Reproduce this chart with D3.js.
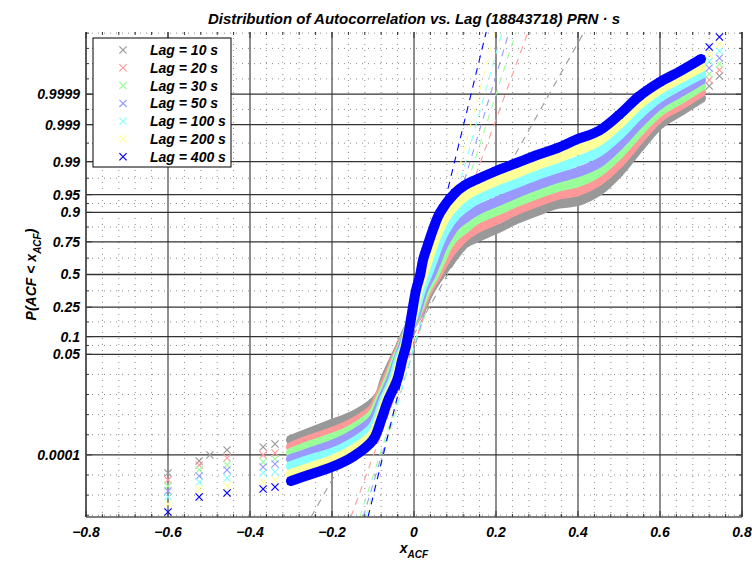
<!DOCTYPE html>
<html>
<head>
<meta charset="utf-8">
<script src="https://cdn.jsdelivr.net/npm/d3@7"></script>
<style>
  body { margin: 0; background: #fff; }
  svg text { font-family: "Liberation Sans", Arial, sans-serif; font-weight: bold; font-style: italic; fill: #000; }
</style>
</head>
<body>
<div id="chart"></div>
<script>
// ---- data (x = ACF value, z = normal quantile of the plotting position) ----
const lagLabels = ["Lag = 10 s", "Lag = 20 s", "Lag = 30 s", "Lag = 50 s", "Lag = 100 s", "Lag = 200 s", "Lag = 400 s"];
const lagColors = ["#999999", "#ff9999", "#99ff99", "#9999ff", "#88ffff", "#ffff99", "#0000ff"];

const yTickLabels = ["0.0001", "0.05", "0.1", "0.25", "0.5", "0.75", "0.9", "0.95", "0.99", "0.999", "0.9999"];
const yMinorDivs = [5, 2, 2, 2, 2, 2, 2, 2, 2, 2];
const xTicks = [-0.8, -0.6, -0.4, -0.2, 0, 0.2, 0.4, 0.6, 0.8];

// dashed reference lines: x at bottom (z=-5) and top (z=5) of the plot
const refLow  = [-0.251, -0.154, -0.132, -0.124, -0.117, -0.115, -0.112];
const refHigh = [ 0.415,  0.278,  0.249,  0.232,  0.215,  0.198,  0.176];

const tails10 = [[-0.600,-4.093],[-0.524,-3.845],[-0.498,-3.722],[-0.456,-3.619],[-0.368,-3.557],[-0.339,-3.495],[0.720,3.887],[0.745,4.093]];
const band10 = [[-0.300,-3.412],[-0.250,-3.247],[-0.200,-3.082],[-0.150,-2.918],[-0.100,-2.649],[-0.083,-2.485],[-0.071,-2.175],[-0.049,-1.763],[-0.034,-1.495],[-0.015,-1.144],[0.012,-0.794],[0.039,-0.320],[0.063,-0.010],[0.090,0.299],[0.115,0.567],[0.125,0.649],[0.150,0.753],[0.200,0.938],[0.250,1.144],[0.300,1.309],[0.350,1.454],[0.400,1.515],[0.450,1.722],[0.500,2.113],[0.550,2.629],[0.600,3.103],[0.650,3.371],[0.700,3.639]];

const tails20 = [[-0.600,-4.237],[-0.524,-3.928],[-0.456,-3.784],[-0.368,-3.722],[-0.339,-3.680],[0.720,4.010],[0.745,4.216]];
const band20 = [[-0.300,-3.557],[-0.250,-3.392],[-0.200,-3.247],[-0.150,-3.062],[-0.100,-2.773],[-0.088,-2.588],[-0.066,-2.175],[-0.046,-1.763],[-0.032,-1.495],[-0.013,-1.144],[0.010,-0.794],[0.034,-0.320],[0.056,-0.010],[0.076,0.299],[0.093,0.505],[0.125,0.794],[0.150,0.938],[0.200,1.124],[0.250,1.330],[0.300,1.495],[0.350,1.639],[0.400,1.722],[0.450,1.928],[0.500,2.299],[0.550,2.794],[0.600,3.247],[0.650,3.495],[0.700,3.763]];

const tails30 = [[-0.600,-4.361],[-0.524,-4.031],[-0.456,-3.928],[-0.368,-3.866],[-0.339,-3.804],[0.720,4.134],[0.745,4.340]];
const band30 = [[-0.300,-3.680],[-0.250,-3.515],[-0.200,-3.371],[-0.150,-3.186],[-0.100,-2.876],[-0.083,-2.588],[-0.061,-2.175],[-0.043,-1.763],[-0.029,-1.495],[-0.013,-1.144],[0.007,-0.794],[0.029,-0.320],[0.049,-0.010],[0.066,0.299],[0.083,0.608],[0.100,0.794],[0.125,0.959],[0.150,1.124],[0.200,1.309],[0.250,1.495],[0.300,1.660],[0.350,1.804],[0.400,1.907],[0.450,2.113],[0.500,2.485],[0.550,2.959],[0.600,3.371],[0.650,3.619],[0.700,3.887]];

const tails50 = [[-0.600,-4.464],[-0.524,-4.155],[-0.456,-4.031],[-0.368,-3.969],[-0.339,-3.907],[0.720,4.258],[0.745,4.464]];
const band50 = [[-0.300,-3.804],[-0.250,-3.660],[-0.200,-3.515],[-0.150,-3.309],[-0.100,-3.000],[-0.078,-2.588],[-0.056,-2.175],[-0.039,-1.763],[-0.027,-1.495],[-0.013,-1.144],[0.005,-0.794],[0.022,-0.320],[0.041,-0.010],[0.056,0.299],[0.071,0.608],[0.085,0.814],[0.100,1.000],[0.125,1.165],[0.150,1.309],[0.200,1.495],[0.250,1.680],[0.300,1.845],[0.350,1.990],[0.400,2.113],[0.450,2.299],[0.500,2.670],[0.550,3.124],[0.600,3.515],[0.650,3.763],[0.700,4.010]];

const tails100 = [[-0.600,-4.588],[-0.524,-4.278],[-0.456,-4.196],[-0.368,-4.093],[-0.339,-4.072],[0.720,4.402],[0.745,4.608]];
const band100 = [[-0.300,-3.948],[-0.250,-3.804],[-0.200,-3.680],[-0.150,-3.474],[-0.100,-3.144],[-0.073,-2.588],[-0.051,-2.175],[-0.037,-1.763],[-0.024,-1.495],[-0.013,-1.144],[0.001,-0.794],[0.017,-0.320],[0.032,-0.010],[0.046,0.299],[0.059,0.608],[0.076,0.918],[0.100,1.206],[0.125,1.392],[0.150,1.536],[0.200,1.722],[0.250,1.887],[0.300,2.052],[0.350,2.196],[0.400,2.340],[0.450,2.526],[0.500,2.876],[0.550,3.309],[0.600,3.660],[0.650,3.907],[0.700,4.134]];

const tails200 = [[-0.600,-4.732],[-0.524,-4.423],[-0.456,-4.361],[-0.368,-4.278],[-0.339,-4.237],[0.720,4.546],[0.745,4.753]];
const band200 = [[-0.300,-4.113],[-0.250,-3.969],[-0.200,-3.825],[-0.150,-3.619],[-0.100,-3.289],[-0.068,-2.588],[-0.046,-2.175],[-0.032,-1.763],[-0.022,-1.495],[-0.013,-1.144],[-0.002,-0.794],[0.010,-0.320],[0.022,-0.010],[0.034,0.299],[0.046,0.608],[0.061,0.918],[0.080,1.227],[0.100,1.433],[0.125,1.619],[0.150,1.742],[0.200,1.928],[0.250,2.093],[0.300,2.258],[0.350,2.402],[0.400,2.567],[0.450,2.753],[0.500,3.103],[0.550,3.515],[0.600,3.825],[0.650,4.052],[0.700,4.278]];

const tails400 = [[-0.600,-4.897],[-0.524,-4.588],[-0.456,-4.505],[-0.368,-4.423],[-0.339,-4.381],[0.720,4.691],[0.745,4.897]];
const band400 = [[-0.300,-4.258],[-0.250,-4.113],[-0.200,-3.969],[-0.150,-3.763],[-0.100,-3.412],[-0.080,-3.000],[-0.063,-2.588],[-0.041,-2.175],[-0.029,-1.763],[-0.020,-1.495],[-0.012,-1.144],[-0.005,-0.794],[0.005,-0.320],[0.015,-0.010],[0.022,0.299],[0.032,0.567],[0.046,0.918],[0.063,1.268],[0.100,1.680],[0.125,1.845],[0.150,1.948],[0.200,2.134],[0.250,2.299],[0.300,2.464],[0.350,2.608],[0.400,2.794],[0.450,2.959],[0.500,3.289],[0.550,3.680],[0.600,3.969],[0.650,4.196],[0.700,4.443]];

const bands = [band10, band20, band30, band50, band100, band200, band400];
const tails = [tails10, tails20, tails30, tails50, tails100, tails200, tails400];

// inverse normal cdf (Acklam), used to place the probability ticks
function probit(p) {
    const a = [-39.69683028665376, 220.9460984245205, -275.9285104469687, 138.3577518672690, -30.66479806614716, 2.506628277459239];
    const b = [-54.47609879822406, 161.5858368580409, -155.6989798598866, 66.80131188771972, -13.28068155288572];
    const c = [-0.007784894002430293, -0.3223964580411365, -2.400758277161838, -2.549732539343734, 4.374664141464968, 2.938163982698783];
    const d = [0.007784695709041462, 0.3224671290700398, 2.445134137142996, 3.754408661907416];
    let q, r;
    if (p < 0.02425) {
        q = Math.sqrt(-2 * Math.log(p));
        return (((((c[0]*q+c[1])*q+c[2])*q+c[3])*q+c[4])*q+c[5]) / ((((d[0]*q+d[1])*q+d[2])*q+d[3])*q+1);
    }
    if (p > 1 - 0.02425) {
        q = Math.sqrt(-2 * Math.log(1 - p));
        return -(((((c[0]*q+c[1])*q+c[2])*q+c[3])*q+c[4])*q+c[5]) / ((((d[0]*q+d[1])*q+d[2])*q+d[3])*q+1);
    }
    q = p - 0.5; r = q * q;
    return (((((a[0]*r+a[1])*r+a[2])*r+a[3])*r+a[4])*r+a[5])*q / (((((b[0]*r+b[1])*r+b[2])*r+b[3])*r+b[4])*r+1);
}

// ---- layout ----
const W = 752, H = 564;
const margin = { top: 32, right: 10, bottom: 47, left: 86 };
const width = W - margin.left - margin.right;   // 656
const height = H - margin.top - margin.bottom;  // 485

const svg = d3.select("#chart").append("svg")
    .attr("width", W)
    .attr("height", H);

const g = svg.append("g")
    .attr("transform", "translate(" + margin.left + "," + margin.top + ")");

const x = d3.scaleLinear().domain([-0.8, 0.8]).range([0, width]);
const y = d3.scaleLinear().domain([-5, 5]).range([height, 0]);

// tick positions on the quantile axis
const yTicks = yTickLabels.map(s => probit(+s));
let yMinor = [];
yMinorDivs.forEach((n, i) => {
    const step = (yTicks[i + 1] - yTicks[i]) / n;
    for (let k = 1; k < n; k++) yMinor.push(yTicks[i] + k * step);
});
let lowStep = (yTicks[1] - yTicks[0]) / yMinorDivs[0];
for (let v = yTicks[0] - lowStep; v >= -5.05; v -= lowStep) yMinor.push(v);
let highStep = (yTicks[yTicks.length - 1] - yTicks[yTicks.length - 2]) / yMinorDivs[yMinorDivs.length - 1];
for (let v = yTicks[yTicks.length - 1] + highStep; v <= 5.05; v += highStep) yMinor.push(v);

const xMinor = d3.range(-0.8, 0.8001, 0.04).filter(v => Math.abs(v * 5 - Math.round(v * 5)) > 1e-6);

// ---- grid ----
const grid = g.append("g");
grid.selectAll(".xminor").data(xMinor).enter().append("line")
    .attr("x1", d => x(d)).attr("x2", d => x(d))
    .attr("y1", 0).attr("y2", height)
    .attr("stroke", "#8c8c8c").attr("stroke-width", 1)
    .attr("stroke-dasharray", "1,5");
grid.selectAll(".yminor").data(yMinor).enter().append("line")
    .attr("x1", 0).attr("x2", width)
    .attr("y1", d => y(d)).attr("y2", d => y(d))
    .attr("stroke", "#8c8c8c").attr("stroke-width", 1)
    .attr("stroke-dasharray", "1,5");
grid.selectAll(".xmajor").data(xTicks).enter().append("line")
    .attr("x1", d => x(d)).attr("x2", d => x(d))
    .attr("y1", 0).attr("y2", height)
    .attr("stroke", "#333").attr("stroke-width", 1.1);
grid.selectAll(".ymajor").data(yTicks).enter().append("line")
    .attr("x1", 0).attr("x2", width)
    .attr("y1", d => y(d)).attr("y2", d => y(d))
    .attr("stroke", "#333").attr("stroke-width", 1.3);

// ---- plot content, clipped ----
svg.append("defs").append("clipPath").attr("id", "clip")
    .append("rect").attr("width", width).attr("height", height);
const plot = g.append("g").attr("clip-path", "url(#clip)");

// dashed normal reference lines
plot.selectAll(".ref").data(lagColors).enter().append("line")
    .attr("x1", (d, i) => x(refLow[i])).attr("y1", y(-5))
    .attr("x2", (d, i) => x(refHigh[i])).attr("y2", y(5))
    .attr("stroke", d => d).attr("stroke-width", 1.1)
    .attr("stroke-dasharray", "7,6");

const bandLine = d3.line()
    .x(d => x(d[0]))
    .y(d => y(d[1]))
    .curve(d3.curveCatmullRom.alpha(0.5));

const s = 3.6;
const xMark = "M" + (-s) + "," + (-s) + "L" + s + "," + s + "M" + (-s) + "," + s + "L" + s + "," + (-s);

bands.forEach((band, i) => {
    const col = lagColors[i];
    const layer = plot.append("g");
    layer.append("path")
        .datum(band)
        .attr("d", bandLine)
        .attr("fill", "none")
        .attr("stroke", col)
        .attr("stroke-width", 10)
        .attr("stroke-linejoin", "round")
        .attr("stroke-linecap", "round");
    layer.selectAll(".pt").data(band.concat(tails[i])).enter().append("path")
        .attr("d", xMark)
        .attr("transform", d => "translate(" + x(d[0]) + "," + y(d[1]) + ")")
        .attr("fill", "none")
        .attr("stroke", col)
        .attr("stroke-width", 1.2);
});

// ---- axes box & ticks ----
const axisCol = "#555";
g.append("line").attr("x1", 0).attr("x2", 0).attr("y1", 0).attr("y2", height)
    .attr("stroke", axisCol).attr("stroke-width", 1.8);
g.append("line").attr("x1", width).attr("x2", width).attr("y1", 0).attr("y2", height)
    .attr("stroke", axisCol).attr("stroke-width", 1.8);
g.append("line").attr("x1", 0).attr("x2", width).attr("y1", height).attr("y2", height)
    .attr("stroke", axisCol).attr("stroke-width", 1.5);

const ticks = g.append("g").attr("stroke", "#333").attr("stroke-width", 1);
xTicks.forEach(v => {
    ticks.append("line").attr("x1", x(v)).attr("x2", x(v)).attr("y1", height).attr("y2", height - 6);
    ticks.append("line").attr("x1", x(v)).attr("x2", x(v)).attr("y1", 0).attr("y2", 6);
});
xMinor.forEach(v => {
    ticks.append("line").attr("x1", x(v)).attr("x2", x(v)).attr("y1", height).attr("y2", height - 3);
    ticks.append("line").attr("x1", x(v)).attr("x2", x(v)).attr("y1", 0).attr("y2", 3);
});
yTicks.forEach(v => {
    ticks.append("line").attr("x1", 0).attr("x2", 6).attr("y1", y(v)).attr("y2", y(v));
    ticks.append("line").attr("x1", width).attr("x2", width - 6).attr("y1", y(v)).attr("y2", y(v));
});
yMinor.forEach(v => {
    ticks.append("line").attr("x1", 0).attr("x2", 3).attr("y1", y(v)).attr("y2", y(v));
    ticks.append("line").attr("x1", width).attr("x2", width - 3).attr("y1", y(v)).attr("y2", y(v));
});

// tick labels
const fmtX = d3.format(".1f");
g.selectAll(".xlab").data(xTicks).enter().append("text")
    .attr("x", d => x(d))
    .attr("y", height + 20)
    .attr("text-anchor", "middle")
    .style("font-size", "14px")
    .text(d => d === 0 ? "0" : fmtX(d));

g.selectAll(".ylab").data(yTicks).enter().append("text")
    .attr("x", -6)
    .attr("y", d => y(d))
    .attr("dy", "0.35em")
    .attr("text-anchor", "end")
    .style("font-size", "14px")
    .text((d, i) => yTickLabels[i]);

// axis labels
const xl = svg.append("text")
    .attr("x", margin.left + width / 2)
    .attr("y", 553)
    .attr("text-anchor", "middle")
    .style("font-size", "14px");
xl.append("tspan").text("x");
xl.append("tspan").attr("dy", 5).style("font-size", "10px").text("ACF");

const yl = svg.append("text")
    .attr("transform", "translate(36," + (margin.top + y(0)) + ") rotate(-90)")
    .attr("text-anchor", "middle")
    .style("font-size", "14px");
yl.append("tspan").text("P(ACF < x");
yl.append("tspan").attr("dy", 5).style("font-size", "10px").text("ACF");
yl.append("tspan").attr("dy", -5).text(")");

// title
svg.append("text")
    .attr("x", margin.left + width / 2)
    .attr("y", 24)
    .attr("text-anchor", "middle")
    .style("font-size", "15px")
    .text("Distribution of Autocorrelation vs. Lag (18843718) PRN \u00b7 s");

// ---- legend ----
const legend = svg.append("g").attr("transform", "translate(93,38)");
legend.append("rect")
    .attr("width", 138).attr("height", 129)
    .attr("fill", "#fff").attr("stroke", "#000").attr("stroke-width", 1);
lagLabels.forEach((lab, i) => {
    const row = legend.append("g").attr("transform", "translate(0," + (12 + i * 17.8) + ")");
    row.append("path")
        .attr("d", xMark)
        .attr("transform", "translate(30,0)")
        .attr("fill", "none")
        .attr("stroke", lagColors[i])
        .attr("stroke-width", 1.2);
    row.append("text")
        .attr("x", 57)
        .attr("dy", "0.35em")
        .style("font-size", "14px")
        .text(lab);
});
</script>
</body>
</html>
